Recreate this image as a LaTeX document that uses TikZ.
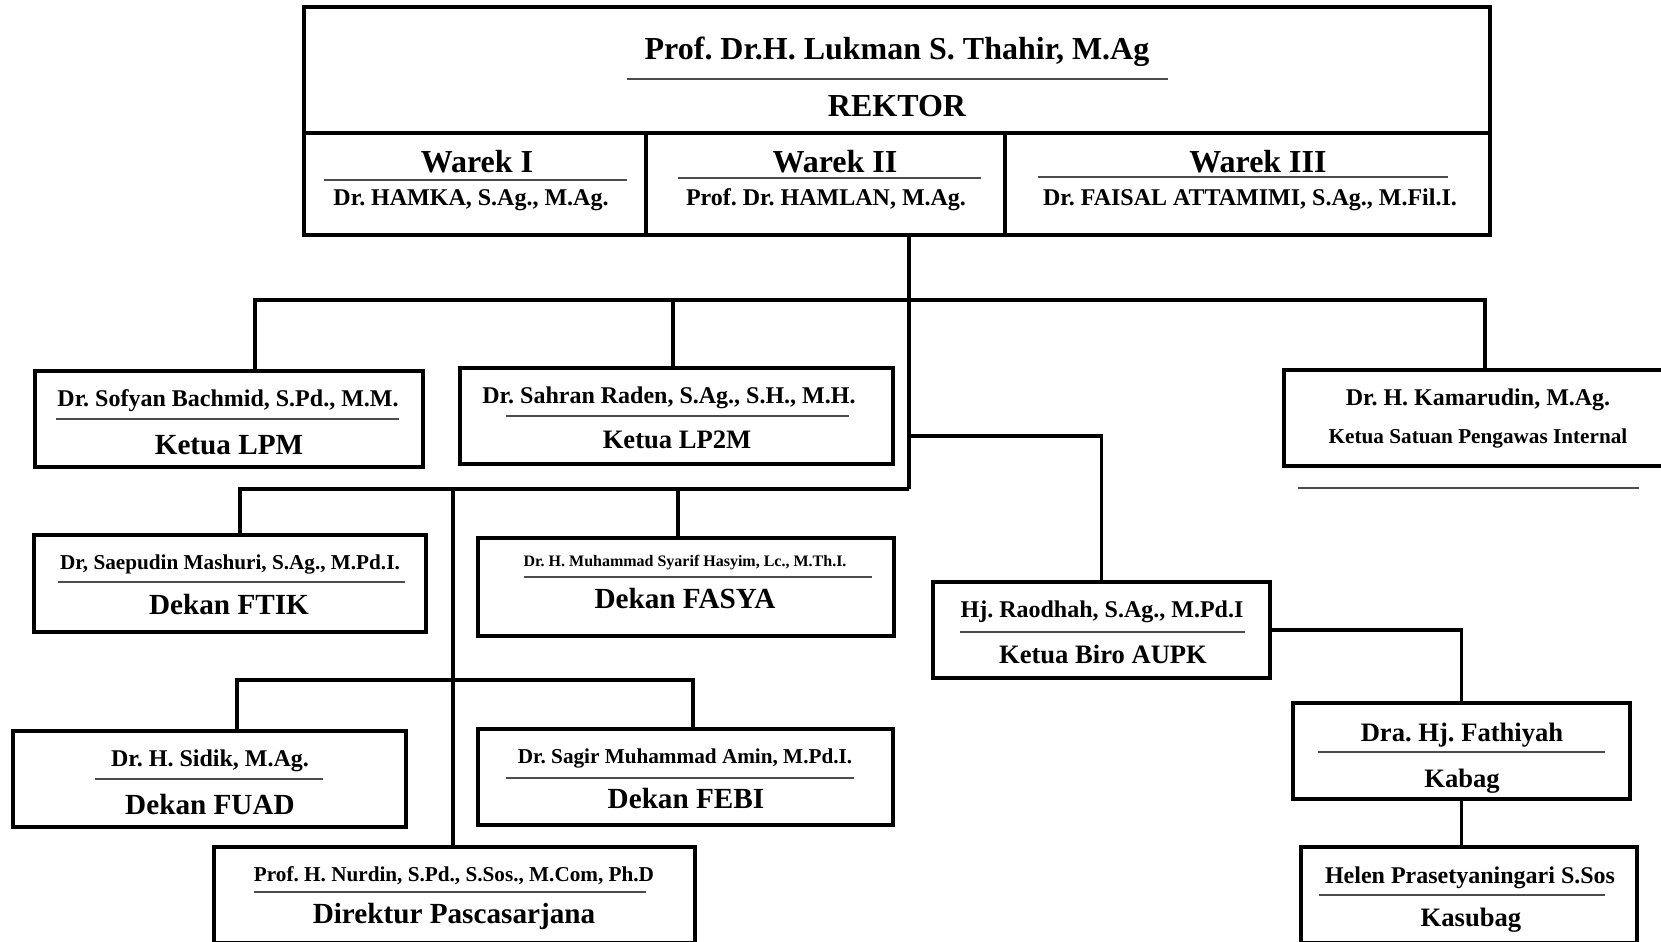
\documentclass[tikz,border=0pt]{standalone}
\usepackage{fontspec}
\setmainfont{Liberation Serif}
\usepackage{tikz}
\usetikzlibrary{positioning,calc}
\frenchspacing

\tikzset{
  box/.style={draw, line width=1.8pt, inner sep=0pt, outer sep=0pt},
  cell/.style={draw, line width=1.8pt, inner sep=0pt, outer sep=0pt},
  wh/.style 2 args={minimum width=#1*0.5pt, minimum height=#2*0.5pt},
  link/.style={line width=1.8pt},
  ul/.style={line width=0.8pt, black!70},
  txt/.style={inner sep=0pt, yshift=-1.5pt},
  head/.style={txt, font=\fontsize{16}{19}\selectfont\bfseries},
  nm/.style={txt, font=\fontsize{12}{14}\selectfont\bfseries},
  nms/.style={txt, font=\fontsize{10.6}{12.5}\selectfont\bfseries},
  role/.style={txt, font=\fontsize{14.6}{17}\selectfont\bfseries},
  roles/.style={txt, font=\fontsize{13.3}{16}\selectfont\bfseries}
}

\begin{document}
\begin{tikzpicture}[x=0.5pt, y=-0.5pt]
  \fill[white] (0,0) rectangle (1661,942);
  \clip (0,0) rectangle (1661,942);
  % rector and vice rectors
  \node[cell, wh={1186}{126}] (rektor) at (897,70) {};
  \node[cell, wh={342}{102}] (warek1) at (475,184) {};
  \node[cell, wh={359}{102}] (warek2) at (825.5,184) {};
  \node[cell, wh={485}{102}] (warek3) at (1247.5,184) {};
  \node[head] (rektorN) at (897,49) {Prof. Dr.H. Lukman S. Thahir, M.Ag};
  \draw[ul] (627,79) -- (1168,79);
  \node[head] (rektorR) at (897,103) {REKTOR};
  \node[head] (warek1R) at (477,159) {Warek I};
  \draw[ul] (324,180) -- (627,180);
  \node[nm] (warek1N) at (471,197) {Dr. HAMKA, S.Ag., M.Ag.};
  \node[head] (warek2R) at (835,159) {Warek II};
  \draw[ul] (678,178) -- (981,178);
  \node[nm] (warek2N) at (826,197) {Prof. Dr. HAMLAN, M.Ag.};
  \node[head] (warek3R) at (1258,159) {Warek III};
  \draw[ul] (1038,177) -- (1448,177);
  \node[nm] (warek3N) at (1250,197) {Dr. FAISAL ATTAMIMI, S.Ag., M.Fil.I.};

  % units
  \node[box, wh={388}{96}] (lpm) at (229,419) {};
  \node[box, wh={433}{96}] (lp2m) at (676.5,416) {};
  \node[box, wh={388}{96}] (spi) at (1478,418) {};
  \node[box, wh={392}{97}] (ftik) at (230,583.5) {};
  \node[box, wh={416}{98}] (fasya) at (686,587) {};
  \node[box, wh={337}{96}] (aupk) at (1101.5,630) {};
  \node[box, wh={337}{96}] (kabag) at (1461.5,751) {};
  \node[box, wh={336}{96}] (kasubag) at (1469,895) {};
  \node[box, wh={393}{96}] (fuad) at (209.5,779) {};
  \node[box, wh={415}{96}] (febi) at (685.5,777) {};
  \node[box, wh={481}{96}] (pasca) at (454.5,895) {};

  \node[nm] (lpmN) at (228,398) {Dr. Sofyan Bachmid, S.Pd., M.M.};
  \draw[ul] (56,419) -- (399,419);
  \node[role] (lpmR) at (229,442) {Ketua LPM};

  \node[nm] (lp2mN) at (669,395) {Dr. Sahran Raden, S.Ag., S.H., M.H.};
  \draw[ul] (506,416) -- (849,416);
  \node[roles] (lp2mR) at (677,437) {Ketua LP2M};

  \node[nm] (spiN) at (1478,397) {Dr. H. Kamarudin, M.Ag.};
  \node[nms] (spiR) at (1478,435) {Ketua Satuan Pengawas Internal};
  \draw[ul] (1298,488) -- (1639,488);

  \node[nms] (ftikN) at (230,561) {Dr, Saepudin Mashuri, S.Ag., M.Pd.I.};
  \draw[ul] (58,582) -- (405,582);
  \node[role] (ftikR) at (229,602) {Dekan FTIK};

  \node[txt, font=\fontsize{8}{10}\selectfont\bfseries] (fasyaN) at (685,560) {Dr. H. Muhammad Syarif Hasyim, Lc., M.Th.I.};
  \draw[ul] (524,577) -- (872,577);
  \node[role] (fasyaR) at (685,596) {Dekan FASYA};

  \node[nm] (aupkN) at (1102,609) {Hj. Raodhah, S.Ag., M.Pd.I};
  \draw[ul] (960,632) -- (1245,632);
  \node[roles] (aupkR) at (1103,651) {Ketua Biro AUPK};

  \node[roles] (kabagN) at (1462,732) {Dra. Hj. Fathiyah};
  \draw[ul] (1318,752) -- (1605,752);
  \node[roles] (kabagR) at (1462,778) {Kabag};

  \node[nm] (kasubagN) at (1470,875) {Helen Prasetyaningari S.Sos};
  \draw[ul] (1319,895) -- (1605,895);
  \node[roles] (kasubagR) at (1471,917) {Kasubag};

  \node[nm] (fuadN) at (210,758) {Dr. H. Sidik, M.Ag.};
  \draw[ul] (95,779) -- (323,779);
  \node[role] (fuadR) at (210,802) {Dekan FUAD};

  \node[nms] (febiN) at (685,755) {Dr. Sagir Muhammad Amin, M.Pd.I.};
  \draw[ul] (506,778) -- (854,778);
  \node[role] (febiR) at (686,796) {Dekan FEBI};

  \node[nms] (pascaN) at (454,873) {Prof. H. Nurdin, S.Pd., S.Sos., M.Com, Ph.D};
  \draw[ul] (254,892) -- (646,892);
  \node[role] (pascaR) at (454,913) {Direktur Pascasarjana};

  % connectors
  \coordinate (busA) at (909,300);
  \coordinate (fork) at (909,436);
  \coordinate (busB) at (909,489);
  \coordinate (busC) at (453,680);
  \draw[link] (warek2.south -| busA) -- (busB);
  \draw[link] ([xshift=13pt]lpm.north) |- (busA) -| ([xshift=3.5pt]spi.north);
  \draw[link] ([xshift=-1.75pt]lp2m.north) |- (busA);
  \draw[link] (fork) -| (aupk.north);
  \draw[link] ([xshift=5pt]ftik.north) |- (busB);
  \draw[link] ([xshift=-4pt]fasya.north) |- (busB);
  \draw[link] (busB -| busC) -- (busC |- pasca.north);
  \draw[link] ([xshift=13.75pt]fuad.north) |- (busC) -| ([xshift=3.75pt]febi.north);
  \draw[link] (aupk.east) -| (kabag.north);
  \draw[link] (kabag.south) -- (kabag.south |- kasubag.north);
\end{tikzpicture}
\end{document}
